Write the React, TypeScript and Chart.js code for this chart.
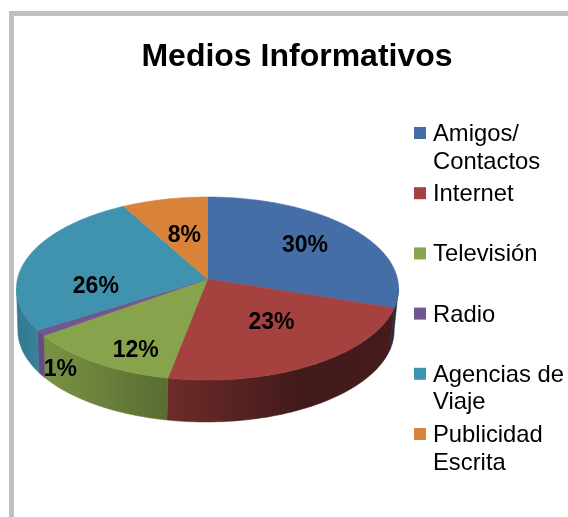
import React, { useEffect, useRef } from "react";
import { Chart, registerables } from "chart.js";

Chart.register(...registerables);

const categories = ["Amigos/ Contactos", "Internet", "Televisión", "Radio", "Agencias de Viaje", "Publicidad Escrita"];
const legendLines = [["Amigos/", "Contactos"], ["Internet"], ["Televisión"], ["Radio"], ["Agencias de", "Viaje"], ["Publicidad", "Escrita"]];
const shares = [30, 23, 12, 1, 26, 8];
const colors = ["#456EA6", "#A54240", "#87A34C", "#71568F", "#3F93AE", "#D8823A"];
const labelRadius = [0.66, 0.564, 0.813, 1.145, 0.589, 0.515];
const labelAngleShift = [0, -4, -7, -18, -23, 0];

const FONT = '"Liberation Sans", Arial, sans-serif';
const W = 568, H = 517;
const CX = 207.5, CY = 279, AX = 190, AY = 90.5, K = 0.104;
const DEPTH = 42, BOTTOM_SCALE_X = 0.985, BOTTOM_DX = -1.5;
const FRONT_START = (5.5 * Math.PI) / 180, FRONT_END = Math.PI - FRONT_START;
const shadeStops: [number, number][] = [[17, 0.82], [45, 0.9], [168, 0.66], [300, 0.4], [397, 0.42]];

function project(a: number, r: number, sx = 1, dy = 0, dx = 0) {
  const X = r * Math.cos(a), Y = r * Math.sin(a), w = 1 - K * Y;
  return { x: CX + dx + (AX * X * sx) / w, y: CY + (AY * Y) / w + dy };
}
function shade(hex: string, f: number) {
  const n = parseInt(hex.slice(1), 16);
  return `rgb(${Math.round((n >> 16) * f)},${Math.round(((n >> 8) & 255) * f)},${Math.round((n & 255) * f)})`;
}
function rim(a0: number, a1: number) {
  const n = Math.max(2, Math.ceil(Math.abs(a1 - a0) / 0.015));
  return Array.from({ length: n + 1 }, (_, i) => a0 + ((a1 - a0) * i) / n);
}

const piePlugin = {
  id: "perspectivePie",
  beforeDatasetDraw(chart: any) {
    const ctx = chart.ctx;
    const arcs = chart.getDatasetMeta(0).data;
    ctx.save();
    arcs.forEach((el: any, i: number) => {
      const a0 = Math.max(el.startAngle, FRONT_START);
      const a1 = Math.min(el.endAngle, FRONT_END);
      if (a0 >= a1) return;
      const g = ctx.createLinearGradient(shadeStops[0][0], 0, shadeStops[shadeStops.length - 1][0], 0);
      const span = shadeStops[shadeStops.length - 1][0] - shadeStops[0][0];
      for (const [x, f] of shadeStops) g.addColorStop((x - shadeStops[0][0]) / span, shade(colors[i], f));
      const angles = rim(a0, a1);
      ctx.beginPath();
      angles.forEach((a, j) => {
        const p = project(a, 1);
        j ? ctx.lineTo(p.x, p.y) : ctx.moveTo(p.x, p.y);
      });
      [...angles].reverse().forEach((a) => {
        const p = project(a, 1, BOTTOM_SCALE_X, DEPTH, BOTTOM_DX);
        ctx.lineTo(p.x, p.y);
      });
      ctx.closePath();
      ctx.fillStyle = g;
      ctx.strokeStyle = g;
      ctx.lineWidth = 0.5;
      ctx.fill();
      ctx.stroke();
    });
    arcs.forEach((el: any, i: number) => {
      ctx.beginPath();
      ctx.moveTo(CX, CY);
      rim(el.startAngle, el.endAngle).forEach((a) => {
        const p = project(a, 1);
        ctx.lineTo(p.x, p.y);
      });
      ctx.closePath();
      ctx.fillStyle = colors[i];
      ctx.strokeStyle = colors[i];
      ctx.lineWidth = 0.6;
      ctx.fill();
      ctx.stroke();
    });
    ctx.restore();
    return false;
  },
  afterDraw(chart: any) {
    const ctx = chart.ctx;
    const arcs = chart.getDatasetMeta(0).data;
    ctx.save();
    ctx.fillStyle = "#000";
    ctx.textAlign = "center";
    ctx.textBaseline = "middle";
    ctx.font = `bold 23px ${FONT}`;
    arcs.forEach((el: any, i: number) => {
      const mid = (el.startAngle + el.endAngle) / 2 + (labelAngleShift[i] * Math.PI) / 180;
      const p = project(mid, labelRadius[i]);
      ctx.fillText(`${shares[i]}%`, p.x, p.y);
    });
    ctx.textAlign = "left";
    ctx.font = `23.8px ${FONT}`;
    legendLines.forEach((lines, i) => {
      const y = 133 + i * 60.2;
      ctx.fillStyle = colors[i];
      ctx.fillRect(414, y - 6, 12, 12);
      ctx.fillStyle = "#000";
      lines.forEach((t, j) => ctx.fillText(t, 433, y + 1.5 + j * 27.5));
    });
    ctx.restore();
  },
};

export default function App() {
  const ref = useRef<HTMLCanvasElement>(null);
  useEffect(() => {
    const chart = new Chart(ref.current!, {
      type: "pie",
      data: { labels: categories, datasets: [{ data: shares, backgroundColor: colors, borderWidth: 0 }] },
      plugins: [piePlugin],
      options: {
        responsive: false,
        animation: false,
        layout: { padding: { left: 26 } },
        plugins: {
          legend: { display: false },
          tooltip: { enabled: false },
          title: {
            display: true,
            text: "Medios Informativos",
            color: "#000",
            font: { family: FONT, size: 32, weight: "bold" },
            padding: { top: 38, bottom: 10 },
          },
        },
      },
    } as any);
    return () => chart.destroy();
  }, []);
  return (
    <div style={{ position: "fixed", left: 0, top: 0, width: W, height: H, overflow: "hidden", background: "#fff" }}>
      <div style={{ position: "absolute", left: 9, top: 11, right: 0, bottom: 0, borderLeft: "5px solid #BFBFBF", borderTop: "5px solid #BFBFBF" }} />
      <canvas ref={ref} width={W} height={H} style={{ position: "absolute", left: 0, top: 0 }} />
    </div>
  );
}
